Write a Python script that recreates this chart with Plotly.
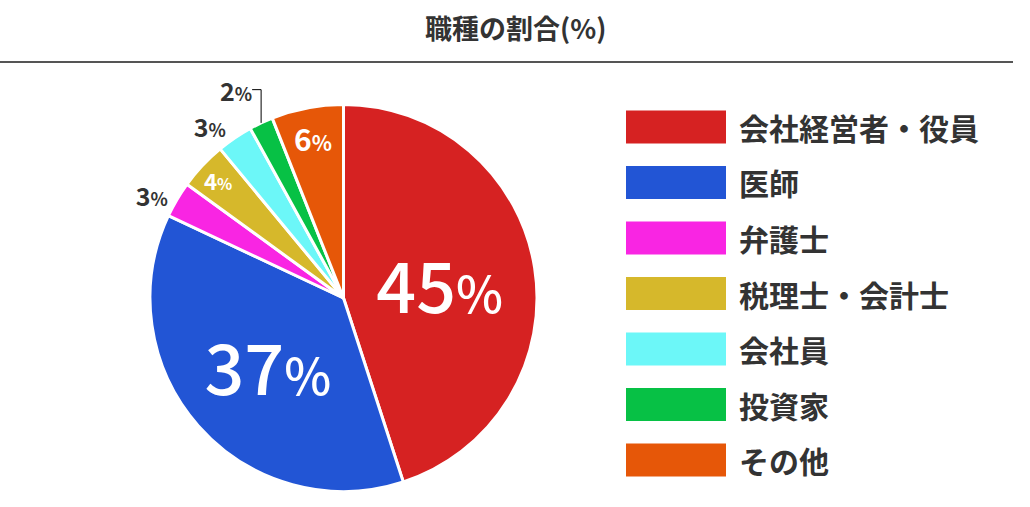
import plotly.graph_objects as go

# data
categories = ["会社経営者・役員", "医師", "弁護士", "税理士・会計士", "会社員", "投資家", "その他"]
shares = [45, 37, 3, 4, 3, 2, 6]
colors = ["#d62222", "#2255d5", "#f925e3", "#d6b82b", "#6cf7f8", "#07c145", "#e65708"]
inside = [True, True, False, True, False, False, True]
label_sizes = [70, 70, 25, 31, 25, 25, 30]

W, H = 1030, 507
FONT = "Noto Sans CJK JP"

# big labels medium weight, small ones bold; "%" a bit smaller than the digits
labels_txt = []
for v, s in zip(shares, label_sizes):
    t = f"{v}<span style='font-size:{int(s * 0.72)}px'>%</span>"
    labels_txt.append(t if s > 40 else f"<b>{t}</b>")

fig = go.Figure()
fig.add_trace(
    go.Pie(
        labels=categories,
        values=shares,
        text=labels_txt,
        textinfo="text",
        sort=False,
        direction="clockwise",
        rotation=0,
        marker=dict(colors=colors, line=dict(color="white", width=3)),
        textposition=["inside" if f else "outside" for f in inside],
        insidetextorientation="horizontal",
        textfont=dict(
            family=FONT,
            size=label_sizes,
            color=["white" if f else "#333333" for f in inside],
            weight=500,
        ),
        domain=dict(x=[150 / W, 537 / W], y=[(H - 492) / H, (H - 104) / H]),
        hoverinfo="skip",
        showlegend=False,
    )
)

# header rule + title
shapes = [
    dict(type="line", xref="paper", yref="paper",
         x0=0, x1=1013 / W, y0=(H - 62) / H, y1=(H - 62) / H,
         line=dict(color="#555555", width=2))
]
annotations = [
    dict(text="<b>職種の割合(%)</b>", x=515 / W, y=(H - 27) / H,
         xref="paper", yref="paper", xanchor="center", yanchor="middle",
         showarrow=False, font=dict(family=FONT, size=27, color="#333333"))
]

# custom legend with big colour boxes
for i, (name, col) in enumerate(zip(categories, colors)):
    cy = 127 + i * 55.5
    shapes.append(dict(type="rect", xref="paper", yref="paper",
                       x0=626 / W, x1=726 / W,
                       y0=(H - cy - 16.5) / H, y1=(H - cy + 16.5) / H,
                       fillcolor=col, line=dict(width=0)))
    annotations.append(dict(text=f"<b>{name}</b>", x=737 / W, y=(H - cy) / H,
                            xref="paper", yref="paper", xanchor="left",
                            yanchor="middle", showarrow=False,
                            font=dict(family=FONT, size=30, color="#333333")))

fig.update_layout(
    width=W,
    height=H,
    margin=dict(l=0, r=0, t=0, b=0),
    paper_bgcolor="white",
    plot_bgcolor="white",
    shapes=shapes,
    annotations=annotations,
)

fig.write_html("out.html", config={"displayModeBar": False},
               post_script="document.body.style.margin='0px';")
